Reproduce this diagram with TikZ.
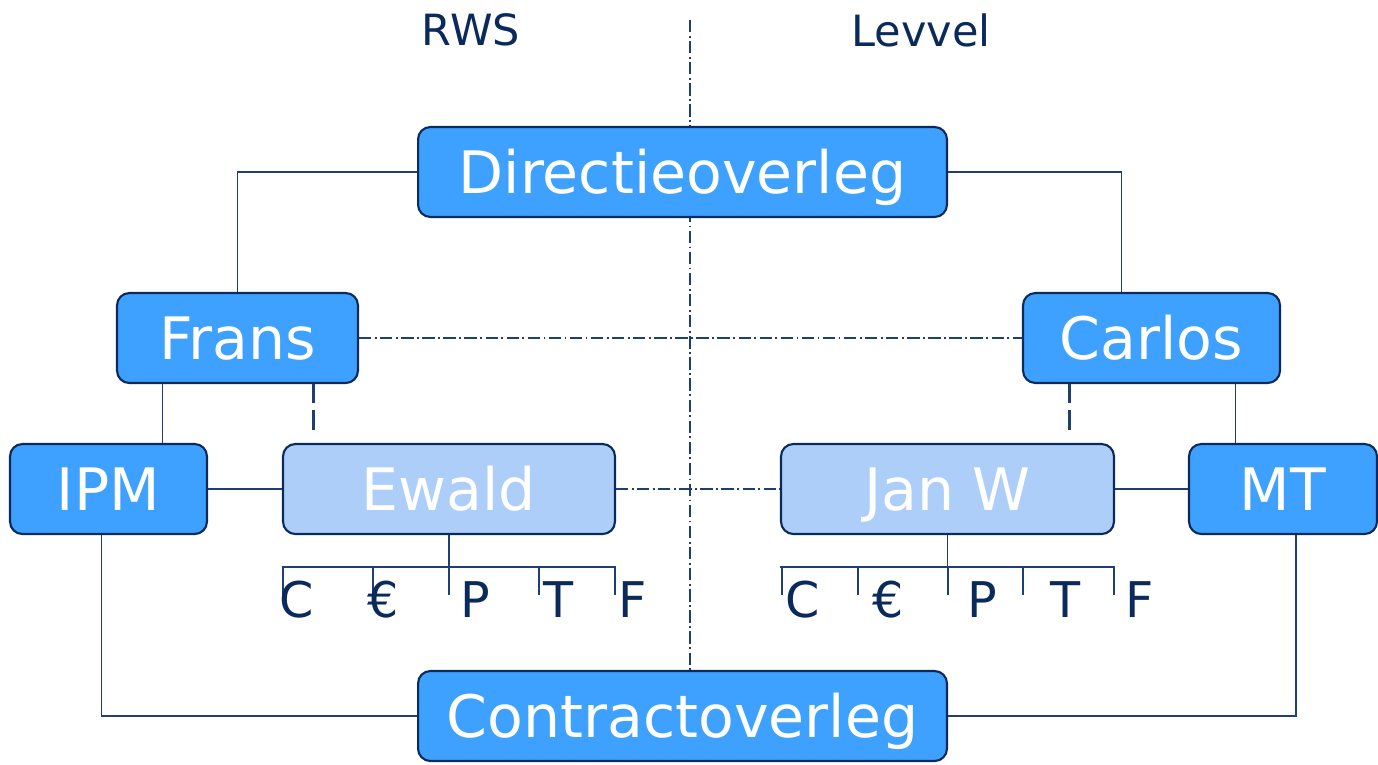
\documentclass[tikz,border=0pt]{standalone}
\usepackage{fontspec}
\setmainfont{DejaVu Sans}
\definecolor{boxblue}{RGB}{62,160,255}
\definecolor{paleblue}{RGB}{174,206,250}
\definecolor{navy}{RGB}{10,42,92}
\definecolor{linkblue}{RGB}{30,62,118}
\tikzset{
  orgbox/.style={draw=navy, line width=1.2pt, rounded corners=7pt, fill=boxblue,
    text=white, inner sep=0pt, minimum height=1.8cm, text height=24.3pt, text depth=0pt,
    font=\fontsize{33.3}{37}\selectfont},
  palebox/.style={orgbox, fill=paleblue},
  link/.style={draw=linkblue, line width=0.7pt},
  dashlink/.style={draw=linkblue, line width=1.4pt, dash pattern=on 11pt off 4pt},
  axisline/.style={draw=linkblue, line width=0.7pt, dash pattern=on 7pt off 2pt on 1pt off 2pt},
  headlabel/.style={text=navy, inner sep=0pt, font=\fontsize{24.5}{28}\selectfont},
  letter/.style={text=navy, inner sep=0pt, anchor=west, font=\fontsize{28}{32}\selectfont}
}
\begin{document}
\begin{tikzpicture}[x=0.02cm, y=-0.02cm]
\useasboundingbox (0,0) rectangle (1378,764);
% Column headings and divider
\node[headlabel] (rws) at (471,30) {RWS};
\node[headlabel] (levvel) at (921,30) {Levvel};
\coordinate (divtop) at (690,20);
\coordinate (divbot) at (690,671);
\draw[axisline] (divtop) -- (divbot);
% Boxes
\node[orgbox, minimum width=10.58cm] (dir) at (682.5,172) {Directieoverleg};
\node[orgbox, minimum width=4.82cm] (frans) at (237.5,338) {Frans};
\node[orgbox, minimum width=5.14cm] (carlos) at (1151.5,338) {Carlos};
\node[orgbox, minimum width=3.94cm] (ipm) at (108.5,489) {IPM};
\node[palebox, minimum width=6.64cm] (ewald) at (449,489) {Ewald};
\node[palebox, minimum width=6.66cm] (janw) at (947.5,489) {Jan W};
\node[orgbox, minimum width=3.76cm] (mt) at (1283,489) {MT};
\node[orgbox, minimum width=10.58cm] (contract) at (682.5,716) {Contractoverleg};
% Solid links
\draw[link] (dir.west) -| (frans.north);
\draw[link] (dir.east) -| ([xshift=-0.6cm]carlos.north);
\draw[link] ([xshift=-1.5cm]frans.south) -- ([xshift=-1.5cm]frans.south |- ipm.north);
\draw[link] ([xshift=1.68cm]carlos.south) -- ([xshift=1.68cm]carlos.south |- mt.north);
\draw[link] (ipm.east) -- (ewald.west);
\draw[link] (janw.east) -- (mt.west);
\draw[link] ([xshift=-0.14cm]ipm.south) |- (contract.west);
\draw[link] ([xshift=0.26cm]mt.south) |- (contract.east);
% Dashed links
\draw[dashlink] ([xshift=1.52cm]frans.south) -- ++(0,52);
\draw[dashlink] ([xshift=-1.64cm]carlos.south) -- ++(0,52);
% Dash-dot links
\draw[axisline] (frans.east) -- (carlos.west);
\draw[axisline] (ewald.east) -- (janw.west);
% Aspects under Ewald
\draw[link] (ewald.south) -- ++(0,32) coordinate (ewbar);
\draw[link] (ewbar -| ewald.west) -- (ewbar -| ewald.east);
\foreach \tx in {283,373,449,539,615}
  \draw[link] (\tx,566) -- (\tx,595);
\foreach \lx/\lab in {279/C,367/€,460/P,543/T,618/F}
  \node[letter] at (\lx,600) {\lab};
% Aspects under Jan W
\draw[link] (janw.south) -- ++(0,32) coordinate (jwbar);
\draw[link] (jwbar -| janw.west) -- (jwbar -| janw.east);
\foreach \tx in {782,858,948,1023,1114}
  \draw[link] (\tx,566) -- (\tx,595);
\foreach \lx/\lab in {785/C,872/€,967/P,1050/T,1125/F}
  \node[letter] at (\lx,600) {\lab};
\end{tikzpicture}
\end{document}
